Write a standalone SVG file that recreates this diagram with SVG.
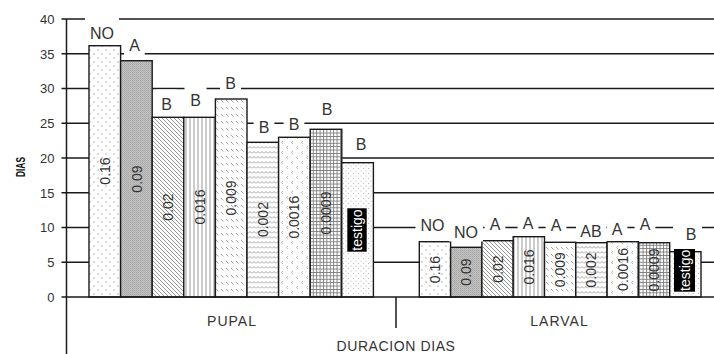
<svg xmlns="http://www.w3.org/2000/svg" width="714" height="354" viewBox="0 0 714 354">
<defs>
<pattern id="pDots" patternUnits="userSpaceOnUse" width="8" height="8"><rect width="8" height="8" fill="#fff"/><circle cx="2" cy="2" r="0.7" fill="#999"/><circle cx="6" cy="6" r="0.7" fill="#999"/></pattern>
<pattern id="pGray" patternUnits="userSpaceOnUse" width="2" height="2"><rect width="2" height="2" fill="#c2c2c2"/><rect width="1" height="1" fill="#a6a6a6"/><rect x="1" y="1" width="1" height="1" fill="#b0b0b0"/></pattern>
<pattern id="pDiag" patternUnits="userSpaceOnUse" width="4" height="4"><rect width="4" height="4" fill="#fff"/><path d="M-1,-1 L5,5 M-1,3 L1,5 M3,-1 L5,1" stroke="#8a8a8a" stroke-width="0.9"/></pattern>
<pattern id="pVert" patternUnits="userSpaceOnUse" width="4" height="4"><rect width="4" height="4" fill="#fff"/><path d="M2,0 V4" stroke="#999" stroke-width="1"/></pattern>
<pattern id="pDash" patternUnits="userSpaceOnUse" width="5" height="7"><rect width="5" height="7" fill="#fff"/><path d="M1,2 L3.5,4.5" stroke="#9a9a9a" stroke-width="0.9"/></pattern>
<pattern id="pZig" patternUnits="userSpaceOnUse" width="4" height="5"><rect width="4" height="5" fill="#fff"/><path d="M0,3.5 L2,1.5 L4,3.5" stroke="#999" stroke-width="0.9" fill="none"/></pattern>
<pattern id="pChev" patternUnits="userSpaceOnUse" width="10" height="10"><rect width="10" height="10" fill="#fff"/><path d="M3,1 L1.5,2.5 L3,4 M8,6 L6.5,7.5 L8,9" stroke="#aaa" stroke-width="0.8" fill="none"/></pattern>
<pattern id="pGrid" patternUnits="userSpaceOnUse" width="3.4" height="3.4"><rect width="3.4" height="3.4" fill="#fff"/><path d="M0,0.5 H3.4 M0.5,0 V3.4" stroke="#7a7a7a" stroke-width="0.9"/></pattern>
<pattern id="pSmall" patternUnits="userSpaceOnUse" width="5" height="5"><rect width="5" height="5" fill="#fff"/><circle cx="1" cy="1" r="0.5" fill="#a8a8a8"/><circle cx="3.5" cy="3.5" r="0.5" fill="#a8a8a8"/></pattern>
</defs>
<style>
.grid{stroke:#1a1a1a;stroke-width:1.3;fill:none}
.axis{stroke:#1a1a1a;stroke-width:1.5;fill:none}
.bar{stroke:#1a1a1a;stroke-width:1.4}
.tick{font-family:"Liberation Sans",Arial,sans-serif;font-size:13px;fill:#333;text-anchor:end}
.let{font-family:"Liberation Sans",Arial,sans-serif;font-size:16px;fill:#333;text-anchor:middle}
.box{fill:#fff}
.val{font-family:"Liberation Sans",Arial,sans-serif;font-size:14px;fill:#333;text-anchor:middle;dominant-baseline:central}
.tval{font-family:"Liberation Sans",Arial,sans-serif;font-size:14px;fill:#fff;text-anchor:middle;dominant-baseline:central}
.cat{font-family:"Liberation Sans",Arial,sans-serif;font-size:14px;fill:#333;text-anchor:middle;letter-spacing:1px}
</style>
<rect width="714" height="354" fill="#fff"/>
<g id="gridlines">
<path class="grid" d="M61.5,19 H714 M61.5,53.75 H714 M61.5,88.5 H714 M61.5,123.25 H714 M61.5,158 H714 M61.5,192.75 H714 M61.5,227.5 H714 M61.5,262.25 H714"/>
</g>
<g id="axis-labels">
<text class="tick" x="54.5" y="23.7">40</text>
<text class="tick" x="54.5" y="58.5">35</text>
<text class="tick" x="54.5" y="93.2">30</text>
<text class="tick" x="54.5" y="128">25</text>
<text class="tick" x="54.5" y="162.7">20</text>
<text class="tick" x="54.5" y="197.5">15</text>
<text class="tick" x="54.5" y="232.2">10</text>
<text class="tick" x="54.5" y="267">5</text>
<text class="tick" x="54.5" y="301.7">0</text>
<text x="20.5" y="167" transform="rotate(-90 20.5 167)" text-anchor="middle" dominant-baseline="central" font-family="Liberation Sans, Arial, sans-serif" font-size="12" font-weight="bold" fill="#111" textLength="20" lengthAdjust="spacingAndGlyphs">DIAS</text>
</g>
<g id="pupal">
<rect class="bar" x="89" y="45.7" width="31.6" height="251.3" fill="url(#pDots)"/>
<rect class="bar" x="120.6" y="60.7" width="31.6" height="236.3" fill="url(#pGray)"/>
<rect class="bar" x="152.2" y="117.3" width="31.6" height="179.7" fill="url(#pDiag)"/>
<rect class="bar" x="183.8" y="117.3" width="31.6" height="179.7" fill="url(#pVert)"/>
<rect class="bar" x="215.4" y="99" width="31.6" height="198" fill="url(#pDash)"/>
<rect class="bar" x="247" y="142.3" width="31.6" height="154.7" fill="url(#pZig)"/>
<rect class="bar" x="278.6" y="137.3" width="31.6" height="159.7" fill="url(#pChev)"/>
<rect class="bar" x="310.2" y="129.3" width="31.6" height="167.7" fill="url(#pGrid)"/>
<rect class="bar" x="341.8" y="162.7" width="31.6" height="134.3" fill="url(#pSmall)"/>
</g>
<g id="larval">
<rect class="bar" x="419.3" y="241.7" width="31.3" height="55.3" fill="url(#pDots)"/>
<rect class="bar" x="450.6" y="247.3" width="31.3" height="49.7" fill="url(#pGray)"/>
<rect class="bar" x="481.9" y="240.7" width="31.3" height="56.3" fill="url(#pDiag)"/>
<rect class="bar" x="513.2" y="236.7" width="31.3" height="60.3" fill="url(#pVert)"/>
<rect class="bar" x="544.5" y="242.3" width="31.3" height="54.7" fill="url(#pDash)"/>
<rect class="bar" x="575.8" y="242.7" width="31.3" height="54.3" fill="url(#pZig)"/>
<rect class="bar" x="607.1" y="241.7" width="31.3" height="55.3" fill="url(#pChev)"/>
<rect class="bar" x="638.4" y="242.7" width="31.3" height="54.3" fill="url(#pGrid)"/>
<rect class="bar" x="669.7" y="251.7" width="31.3" height="45.3" fill="url(#pSmall)"/>
</g>
<g id="letters-pupal">
<rect class="box" x="85" y="17" width="34" height="25"/><text class="let" x="102" y="38.5">NO</text>
<rect class="box" x="124" y="31" width="20.7" height="24"/><text class="let" x="134.5" y="51">A</text>
<rect class="box" x="156" y="89.5" width="20.7" height="24"/><text class="let" x="166.5" y="109.5">B</text>
<rect class="box" x="184.5" y="85" width="22" height="24"/><text class="let" x="195.5" y="106">B</text>
<rect class="box" x="220" y="68" width="21" height="24"/><text class="let" x="230.5" y="89">B</text>
<rect class="box" x="253.6" y="113" width="20.8" height="24"/><text class="let" x="264" y="133">B</text>
<rect class="box" x="283.6" y="109.5" width="20.8" height="24"/><text class="let" x="294" y="129.5">B</text>
<rect class="box" x="316.6" y="95" width="20.8" height="24"/><text class="let" x="327" y="115">B</text>
<rect class="box" x="350.6" y="130" width="20.8" height="24"/><text class="let" x="361" y="150">B</text>
</g>
<g id="letters-larval">
<rect class="box" x="415.5" y="210.5" width="34" height="24"/><text class="let" x="432.5" y="230.5">NO</text>
<rect class="box" x="449" y="217.5" width="34" height="24"/><text class="let" x="466" y="237.5">NO</text>
<rect class="box" x="484.6" y="210" width="20.8" height="24"/><text class="let" x="495" y="230">A</text>
<rect class="box" x="517.6" y="208.5" width="20.8" height="24"/><text class="let" x="528" y="228.5">A</text>
<rect class="box" x="545.6" y="211" width="20.8" height="24"/><text class="let" x="556" y="231">A</text>
<rect class="box" x="576" y="217" width="30" height="24"/><text class="let" x="591" y="237">AB</text>
<rect class="box" x="606.6" y="215" width="20.8" height="24"/><text class="let" x="617" y="235">A</text>
<rect class="box" x="634.6" y="210" width="20.8" height="24"/><text class="let" x="645" y="230">A</text>
<rect class="box" x="673" y="220" width="29" height="24"/><text class="let" x="691" y="240">B</text>
</g>
<g id="values-pupal">
<text class="val" transform="translate(105,171) rotate(-90)">0.16</text>
<text class="val" transform="translate(136.5,179) rotate(-90)">0.09</text>
<text class="val" transform="translate(168,207) rotate(-90)">0.02</text>
<text class="val" transform="translate(199.6,207) rotate(-90)">0.016</text>
<text class="val" transform="translate(231.2,198) rotate(-90)">0.009</text>
<text class="val" transform="translate(262.8,219.6) rotate(-90)">0.002</text>
<text class="val" transform="translate(294.4,217.2) rotate(-90)">0.0016</text>
<text class="val" transform="translate(326,213) rotate(-90)">0.0009</text>
<rect x="347.3" y="208.3" width="19.4" height="43.4" fill="#000"/>
<text class="tval" transform="translate(357,230) rotate(-90)">testigo</text>
</g>
<g id="values-larval">
<text class="val" transform="translate(435,269.5) rotate(-90)">0.16</text>
<text class="val" transform="translate(466.2,272) rotate(-90)">0.09</text>
<text class="val" transform="translate(497.5,269) rotate(-90)">0.02</text>
<text class="val" transform="translate(528.8,267) rotate(-90)">0.016</text>
<text class="val" transform="translate(560.1,269.7) rotate(-90)">0.009</text>
<text class="val" transform="translate(591.4,270) rotate(-90)">0.002</text>
<text class="val" transform="translate(622.7,269.5) rotate(-90)">0.0016</text>
<text class="val" transform="translate(654,270) rotate(-90)">0.0009</text>
<rect x="674" y="249" width="21" height="42.7" fill="#000"/>
<text class="tval" transform="translate(684.5,270.3) rotate(-90)">testigo</text>
</g>
<g id="axes">
<path class="axis" d="M66.5,19 V354 M61.5,297 H714 M396,297 V328"/>
</g>
<g id="categories">
<text class="cat" x="232" y="326">PUPAL</text>
<text class="cat" x="559.5" y="326">LARVAL</text>
<text x="396" y="351" text-anchor="middle" font-family="Liberation Sans, Arial, sans-serif" font-size="14" fill="#333" letter-spacing="0.6">DURACION DIAS</text>
</g>
</svg>
